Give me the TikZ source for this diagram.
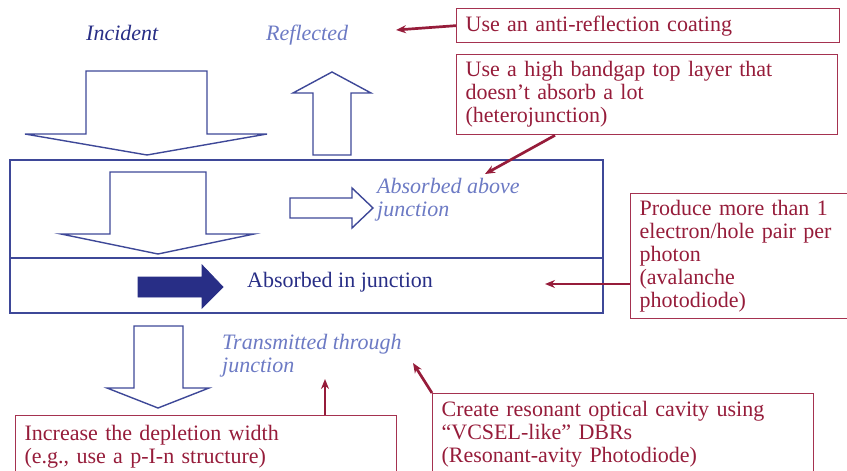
\documentclass[tikz,border=0pt]{standalone}
\usepackage{fontspec}
\setmainfont{Liberation Serif}
\usetikzlibrary{arrows.meta}
\definecolor{bline}{RGB}{62,72,152}
\definecolor{lblue}{RGB}{108,122,196}
\definecolor{navy}{RGB}{40,46,134}
\definecolor{wine}{RGB}{150,28,58}
\definecolor{wineline}{RGB}{165,50,80}
\tikzset{
  lbl/.style={font=\fontsize{22}{23}\selectfont, inner sep=0pt, align=left},
  lightlbl/.style={lbl, text=lblue, font=\fontsize{22}{23}\selectfont\itshape},
  callout/.style={draw=wineline, line width=1.3pt, text=wine, font=\fontsize{22}{23}\selectfont,
    align=left, anchor=north west, inner xsep=9pt, inner ysep=0pt},
  pointer/.style={draw=wine, line width=2.7pt, -{Stealth[length=10pt,width=8pt]}},
  bigarrow/.style={draw=bline, line width=1.4pt, line join=miter, fill=white},
}
\begin{document}
\begin{tikzpicture}[x=1pt,y=-1pt]
\useasboundingbox (0,0) rectangle (847,471);
\clip (0,0) rectangle (847,471);

% device
\draw[bline, line width=1.3pt] (10,160) rectangle (603,313);
\draw[bline, line width=1.3pt] (10,258) -- (603,258);

% big arrows
\draw[bigarrow] (86,71) -- (207,71) -- (207,134) -- (267,134) -- (147,155) -- (25,134) -- (86,134) -- cycle;
\draw[bigarrow] (313,155) -- (351,155) -- (351,93) -- (371,93) -- (332,72) -- (293,93) -- (313,93) -- cycle;
\draw[bigarrow] (110,172) -- (206,172) -- (206,234) -- (254,234) -- (158,254) -- (61,234) -- (110,234) -- cycle;
\draw[bigarrow] (290,198) -- (352,198) -- (352,188) -- (373,208) -- (352,228) -- (352,218) -- (290,218) -- cycle;
\draw[draw=navy, fill=navy, line width=0.8pt] (138,277) -- (202,277) -- (202,265) -- (223,287) -- (202,308) -- (202,297) -- (138,297) -- cycle;
\draw[bigarrow] (134,326) -- (183,326) -- (183,388) -- (209,388) -- (158,408) -- (107,388) -- (134,388) -- cycle;

% labels
\node[lbl, text=navy, font=\fontsize{22}{23}\selectfont\itshape, anchor=base west] (inc) at (86,41) {Incident};
\node[lightlbl, anchor=base west] (refl) at (266,41) {Reflected};
\node[lightlbl, anchor=north west] (above) at (377,178) {Absorbed above\\junction};
\node[lbl, text=navy, anchor=base west] (injn) at (247,287) {Absorbed in junction};
\node[lightlbl, anchor=north west] (trans) at (222,334) {Transmitted through\\junction};

% callouts
\node[callout, minimum width=383pt, text width=365pt, minimum height=34pt] (b1) at (456,8) {Use an anti-reflection coating};
\node[callout, minimum width=381pt, text width=363pt, minimum height=80pt] (b2) at (456,54) {Use a high bandgap top layer that\\doesn’t absorb a lot\\(heterojunction)};
\node[callout, minimum width=230pt, text width=212pt, minimum height=125pt] (b3) at (630,193) {Produce more than 1\\electron/hole pair per\\photon\\(avalanche\\photodiode)};
\node[callout, minimum width=381pt, text width=363pt, minimum height=63pt] (b4) at (15,415) {Increase the depletion width\\(e.g., use a p-I-n structure)};
\node[callout, minimum width=381pt, text width=363pt, minimum height=81pt] (b5) at (432,393) {Create resonant optical cavity using\\“VCSEL-like” DBRs\\(Resonant-avity Photodiode)};

% pointers
\coordinate (t1) at (396,30);
\coordinate (t2) at (485,174);
\coordinate (t3) at (545,284);
\coordinate (t4) at (325,379);
\coordinate (t5) at (413,363);
\draw[pointer] (b1.west) -- (t1);
\draw[pointer] (b2.south west) ++(99,0) coordinate (s2) (s2) -- (t2);
\draw[pointer] (b3.west |- t3) -- (t3);
\draw[pointer] (b4.north west) ++(310,0) coordinate (s4) (s4) -- (t4);
\draw[pointer] (b5.north west) -- (t5);
\end{tikzpicture}
\end{document}
